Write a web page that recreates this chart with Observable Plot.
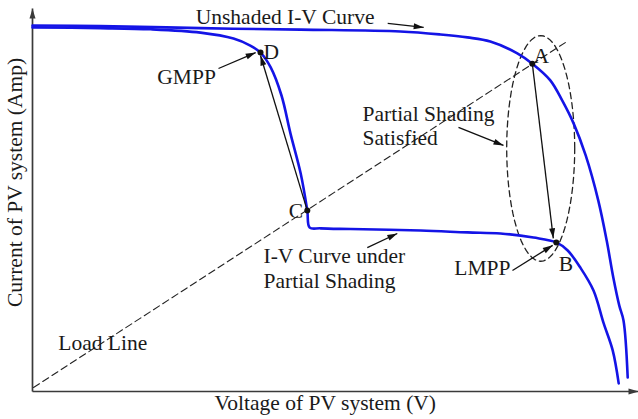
<!DOCTYPE html>
<html>
<head>
<meta charset="utf-8">
<script src="https://cdn.jsdelivr.net/npm/d3@7"></script>
<script src="https://cdn.jsdelivr.net/npm/@observablehq/plot@0.6"></script>
<style>
  html, body { margin: 0; padding: 0; background: #fff; }
  svg text { font-family: "Liberation Serif", "Times New Roman", "DejaVu Serif", serif !important; }
</style>
</head>
<body>
<script>
// Unshaded I-V curve (normalised voltage, normalised current)
const unshadedV = [0, 11.3, 28, 44.7, 61.3, 68, 72.5, 76.3, 80.8, 83.3, 86.3, 88.3, 90.2, 92.2, 94.3, 95.7, 96.8, 97.8, 98.5, 99.2];
const unshadedI = [98.9, 98.8, 98.2, 97.8, 97.3, 96.5, 95.7, 94.6, 91.4, 88.6, 84.1, 78.6, 72.4, 63.8, 51.6, 40.8, 30.8, 23.2, 19.2, 3.8];

// I-V curve under partial shading
const shadedV = [0, 11.3, 19.7, 28, 33.5, 36.3, 38, 39.7, 41.5, 43, 44.7, 45.8, 46.2, 48, 53, 64.7, 72.5, 78, 83.5, 87.3, 89.2, 91.3, 93.5, 95.2, 96.7, 97.7];
const shadedI = [98.4, 98.2, 97.9, 97.0, 95.4, 93.5, 91.6, 87.6, 80, 69.7, 58.9, 48.9, 44.3, 44.1, 43.9, 43.5, 43, 42.7, 41.6, 40.3, 38.1, 33.5, 27.3, 18.4, 11.1, 2.2];

// Operating points
const pointNames = ["D", "C", "A", "B"];
const pointV = [38, 45.8, 83.3, 87.3];
const pointI = [91.6, 48.9, 88.6, 40.3];

// Load line
const loadV = [0.17, 88.8];
const loadI = [1.08, 94.3];

// Partial-shading ellipse (centre and radii, in data units)
const ellipseCenter = [84.7, 65.7];
const ellipseRadii = [5.67, 30.5];

// Annotation arrows
const arrowV1 = [59.2, 31, 45.8, 83.3, 71, 55.8, 80];
const arrowI1 = [99.5, 87.3, 48.9, 88.6, 71.4, 38.9, 32.7];
const arrowV2 = [65.2, 37.2, 38, 86.8, 78.5, 60.8, 86.7];
const arrowI2 = [98.4, 91.6, 90.8, 41.4, 66.5, 42.7, 39.5];

// Axis arrows
const axisV1 = [0, 0];
const axisI1 = [0, 0];
const axisV2 = [0, 101];
const axisI2 = [103.5, 0];

// Labels
const labelText = ["Unshaded I-V Curve", "D", "GMPP", "C", "A", "Partial Shading\nSatisfied", "I-V Curve under\nPartial Shading", "Load Line", "LMPP", "B"];
const labelV = [27.2, 38.5, 20.8, 42.7, 83.5, 55, 38.5, 4.3, 70.3, 87.7];
const labelI = [99.2, 90, 83.2, 47, 88.9, 66.5, 28.1, 11.1, 31.4, 32.7];

const xTitle = "Voltage of PV system (V)";
const yTitle = "Current of PV system (Amp)";

const FONT = "Liberation Serif";
const BLUE = "#1414e6";

const unshaded = unshadedV.map((v, i) => ({v, i: unshadedI[i]}));
const shaded = shadedV.map((v, i) => ({v, i: shadedI[i]}));
const points = pointNames.map((n, k) => ({n, v: pointV[k], i: pointI[k]}));
const load = loadV.map((v, k) => ({v, i: loadI[k]}));
const ellipse = d3.range(0, 73).map(k => {
  const t = (k / 72) * 2 * Math.PI;
  return {v: ellipseCenter[0] + ellipseRadii[0] * Math.cos(t), i: ellipseCenter[1] + ellipseRadii[1] * Math.sin(t)};
});
const arrows = arrowV1.map((v, k) => ({v1: v, i1: arrowI1[k], v2: arrowV2[k], i2: arrowI2[k]}));
const axes = axisV1.map((v, k) => ({v1: v, i1: axisI1[k], v2: axisV2[k], i2: axisI2[k]}));
const labels = labelText.map((t, k) => ({t, v: labelV[k], i: labelI[k]}));

// Filled triangular arrowhead marker
function filledArrow(color, context) {
  const doc = (context && context.document) || document;
  const m = doc.createElementNS("http://www.w3.org/2000/svg", "marker");
  m.setAttribute("viewBox", "-11 -5 12 10");
  m.setAttribute("markerUnits", "userSpaceOnUse");
  m.setAttribute("markerWidth", 12);
  m.setAttribute("markerHeight", 10);
  m.setAttribute("orient", "auto");
  m.setAttribute("overflow", "visible");
  const p = doc.createElementNS("http://www.w3.org/2000/svg", "path");
  p.setAttribute("d", "M-10,-3L0,0L-10,3Z");
  p.setAttribute("fill", color);
  p.setAttribute("stroke", "none");
  m.appendChild(p);
  return m;
}

const chart = Plot.plot({
  width: 638,
  height: 419,
  marginLeft: 32,
  marginRight: 0,
  marginTop: 21,
  marginBottom: 28,
  x: {domain: [0, 101], axis: null},
  y: {domain: [0, 100], axis: null},
  style: {background: "#fff", color: "#222"},
  marks: [
    Plot.link(axes, {x1: "v1", y1: "i1", x2: "v2", y2: "i2", stroke: "#3a3a3a", strokeWidth: 1.7, markerEnd: filledArrow}),
    Plot.line(load, {x: "v", y: "i", stroke: "#222", strokeWidth: 1.1, strokeDasharray: "7,4"}),
    Plot.line(ellipse, {x: "v", y: "i", stroke: "#222", strokeWidth: 1.3, strokeDasharray: "6,4"}),
    Plot.line(unshaded, {x: "v", y: "i", stroke: BLUE, strokeWidth: 2.6, curve: "catmull-rom"}),
    Plot.line(shaded, {x: "v", y: "i", stroke: BLUE, strokeWidth: 2.6, curve: "catmull-rom"}),
    Plot.link(arrows, {x1: "v1", y1: "i1", x2: "v2", y2: "i2", stroke: "#111", strokeWidth: 1.3, markerEnd: filledArrow}),
    Plot.dot(points, {x: "v", y: "i", r: 3, fill: "#111", stroke: "none"}),
    Plot.text(labels, {x: "v", y: "i", text: "t", textAnchor: "start", lineAnchor: "bottom", lineHeight: 1.16, fontSize: 21.5, fontFamily: FONT, fill: "#1a1a1a"}),
    Plot.text([xTitle], {x: 48.8, y: -5.1, text: d => d, textAnchor: "middle", lineAnchor: "bottom", fontSize: 21.5, fontFamily: FONT, fill: "#1a1a1a"}),
    Plot.text([yTitle], {x: -1.67, y: 56.5, text: d => d, rotate: -90, textAnchor: "middle", lineAnchor: "bottom", fontSize: 21.5, fontFamily: FONT, fill: "#1a1a1a"})
  ]
});
document.body.appendChild(chart);
</script>
</body>
</html>
